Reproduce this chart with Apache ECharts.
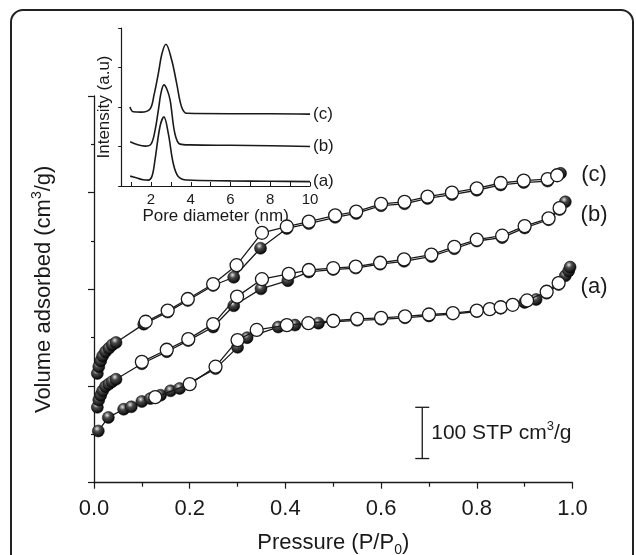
<!DOCTYPE html>
<html>
<head>
<meta charset="utf-8">
<script src="https://cdn.jsdelivr.net/npm/echarts@6/dist/echarts.min.js"></script>
<style>
  html, body { margin: 0; padding: 0; background: #fff; }
  #chart { width: 636px; height: 555px; }
</style>
</head>
<body>
<div id="chart"></div>
<script>
// ---- isotherm (a) ----
const adsPa = [0.009, 0.030, 0.062, 0.078, 0.100, 0.118, 0.139, 0.160, 0.179, 0.254, 0.300, 0.320, 0.385, 0.420, 0.469, 0.500, 0.550, 0.600, 0.650, 0.700, 0.750, 0.800, 0.850, 0.900, 0.924, 0.946, 0.971, 0.985, 0.992, 0.995];
const adsVa = [107, 135, 152, 157, 168, 174, 181, 190, 195, 236, 280, 300, 322, 326, 330, 333, 336, 338, 341, 345, 349, 354, 361, 373, 379, 392, 410, 428, 438, 446];
const desPa = [0.128, 0.200, 0.254, 0.300, 0.340, 0.403, 0.448, 0.500, 0.550, 0.600, 0.650, 0.700, 0.750, 0.800, 0.827, 0.850, 0.875, 0.905, 0.946, 0.971];
const desVa = [177, 204, 240, 295, 316, 326, 330, 335, 339, 341, 344, 348, 351, 356, 359, 363, 368, 377, 395, 413];

// ---- isotherm (b) ----
const adsPb = [0.007, 0.010, 0.014, 0.018, 0.024, 0.031, 0.038, 0.046, 0.100, 0.152, 0.197, 0.249, 0.292, 0.349, 0.405, 0.449, 0.500, 0.547, 0.598, 0.648, 0.705, 0.753, 0.800, 0.853, 0.900, 0.950, 0.973, 0.985];
const adsVb = [156, 171, 181, 190, 199, 204, 209, 214, 246, 271, 294, 322, 366, 401, 418, 436, 441, 444, 452, 458, 468, 484, 500, 507, 527, 544, 565, 581];
const desPb = [0.100, 0.152, 0.197, 0.249, 0.299, 0.351, 0.407, 0.449, 0.500, 0.547, 0.598, 0.648, 0.705, 0.753, 0.800, 0.853, 0.900, 0.950, 0.973];
const desVb = [250, 275, 297, 328, 385, 421, 432, 440, 444, 447, 455, 462, 472, 488, 503, 511, 531, 547, 568];

// ---- isotherm (c) ----
const adsPc = [0.007, 0.010, 0.014, 0.018, 0.024, 0.031, 0.038, 0.046, 0.104, 0.154, 0.196, 0.249, 0.292, 0.348, 0.403, 0.449, 0.504, 0.548, 0.600, 0.649, 0.697, 0.748, 0.800, 0.850, 0.898, 0.948, 0.975];
const adsVc = [226, 240, 252, 262, 271, 278, 285, 290, 328, 353, 377, 408, 425, 485, 526, 536, 549, 557, 573, 577, 588, 596, 605, 616, 621, 624, 640];
const desPc = [0.108, 0.154, 0.196, 0.249, 0.298, 0.351, 0.403, 0.449, 0.504, 0.548, 0.600, 0.649, 0.697, 0.748, 0.800, 0.850, 0.898, 0.948, 0.968];
const desVc = [333, 356, 380, 411, 450, 517, 530, 540, 553, 561, 577, 581, 592, 600, 609, 620, 625, 628, 636];

// curve labels (a) (b) (c) on the main plot
const curveNames = ['(a)', '(b)', '(c)'];
const curveLabelP = [1.045, 1.045, 1.045];
const curveLabelV = [406, 554, 637];

// scale bar: 100 STP cm3/g
const scaleBarP = 0.686;
const scaleBarLow = 50;
const scaleBarHigh = 156;

// ---- inset: pore size distribution ----
const poreDa = [0.95, 1.3, 1.6, 1.86, 2.05, 2.2, 2.45, 2.65, 2.87, 3.12, 3.37, 3.8, 6, 8, 10];
const poreIa = [0.25, 0.2, 0.16, 0.15, 0.25, 0.66, 1.5, 1.75, 1.33, 0.57, 0.24, 0.15, 0.13, 0.12, 0.11];
const poreDb = [0.95, 1.3, 1.7, 2.0, 2.2, 2.37, 2.5, 2.65, 2.8, 2.96, 3.2, 3.46, 4, 6, 8, 10];
const poreIb = [1.12, 1.05, 1.01, 1.06, 1.4, 1.92, 2.35, 2.56, 2.45, 2.18, 1.33, 1.06, 1.04, 1.03, 1.02, 1.0];
const poreDc = [0.94, 1.1, 1.5, 1.95, 2.15, 2.37, 2.55, 2.75, 3.04, 3.29, 3.54, 3.8, 6, 8, 10];
const poreIc = [2.0, 1.88, 1.87, 1.95, 2.3, 2.85, 3.35, 3.59, 3.19, 2.6, 2.0, 1.84, 1.83, 1.83, 1.82];
const insetTickValues = [1, 2, 3, 4, 5, 6, 7, 8, 9, 10];
const insetLabelValues = [2, 4, 6, 8, 10];

const ink = '#1a1a1a';
const font = '"Liberation Sans", Arial, sans-serif';

const pair = (xs, ys) => xs.map((x, i) => [x, ys[i]]);

const myChart = echarts.init(document.getElementById('chart'), null, { renderer: 'canvas' });

//实心球
const sphere = new echarts.graphic.RadialGradient(0.4, 0.32, 0.7, [
  { offset: 0, color: '#e6e6e6' },
  { offset: 0.35, color: '#4a4a4a' },
  { offset: 1, color: '#000' }
]);

function adsSeries(xs, ys) {
  return {
    type: 'line', xAxisIndex: 0, yAxisIndex: 0,
    data: pair(xs, ys),
    symbol: 'circle', symbolSize: 12, showAllSymbol: true,
    lineStyle: { color: ink, width: 1.3 },
    itemStyle: { color: sphere, borderColor: '#000', borderWidth: 0.5 },
    z: 2
  };
}

function desSeries(xs, ys) {
  return {
    type: 'line', xAxisIndex: 0, yAxisIndex: 0,
    data: pair(xs, ys),
    symbol: 'circle', symbolSize: 13, showAllSymbol: true,
    lineStyle: { color: ink, width: 1.3 },
    itemStyle: { color: '#fff', borderColor: ink, borderWidth: 1.3 },
    z: 3
  };
}

function poreSeries(xs, ys, name) {
  return {
    type: 'line', xAxisIndex: 1, yAxisIndex: 1,
    data: pair(xs, ys),
    smooth: 0.35, showSymbol: false,
    lineStyle: { color: ink, width: 1.6 },
    endLabel: { show: true, formatter: name, distance: 3, fontSize: 17, fontFamily: font, color: ink }
  };
}

const tickStyle = { color: ink, width: 1.2 };

const option = {
  animation: false,
  backgroundColor: '#fff',
  textStyle: { fontFamily: font, color: ink },
  graphic: [{
    type: 'rect',
    shape: { x: 11, y: 10, width: 622, height: 570, r: 12 },
    style: { fill: 'none', stroke: '#222', lineWidth: 2 },
    silent: true
  }],
  grid: [
    { left: 94, right: 63.5, top: 96, bottom: 72.3, containLabel: false, outerBoundsMode: 'none' },
    { left: 121.2, right: 326, top: 28, bottom: 369, containLabel: false, outerBoundsMode: 'none' }
  ],
  xAxis: [
    {
      type: 'value', gridIndex: 0, min: 0, max: 1, interval: 0.2,
      axisLine: { lineStyle: { color: ink, width: 1.3 } },
      axisTick: { length: 6, lineStyle: tickStyle },
      minorTick: { show: true, splitNumber: 2, length: 4, lineStyle: tickStyle },
      splitLine: { show: false },
      axisLabel: { formatter: v => v.toFixed(1), fontSize: 22, color: ink, margin: 15, fontFamily: font },
      name: '{t|Pressure (P/P}{b|0}{t|)}',
      nameLocation: 'middle', nameGap: 46,
      nameTextStyle: {
        fontSize: 22, fontFamily: font, color: ink,
        rich: {
          t: { fontSize: 22, fontFamily: font, color: ink, lineHeight: 28 },
          b: { fontSize: 14, fontFamily: font, color: ink, verticalAlign: 'bottom', lineHeight: 28 }
        }
      }
    },
    {
      type: 'value', gridIndex: 1, min: 0.5, max: 10,
      axisLine: { lineStyle: { color: ink, width: 1.2 } },
      axisTick: { inside: true, length: 4, customValues: insetTickValues, lineStyle: { color: ink, width: 1 } },
      splitLine: { show: false },
      axisLabel: { customValues: insetLabelValues, fontSize: 15, color: ink, margin: 6, fontFamily: font },
      name: 'Pore diameter (nm)',
      nameLocation: 'middle', nameGap: 22,
      nameTextStyle: { fontSize: 17, fontFamily: font, color: ink }
    }
  ],
  yAxis: [
    {
      type: 'value', gridIndex: 0, min: 0, max: 800, interval: 200,
      axisLine: { show: true, lineStyle: { color: ink, width: 1.3 } },
      axisTick: { show: true, length: 6, lineStyle: tickStyle },
      minorTick: { show: true, splitNumber: 2, length: 3, lineStyle: tickStyle },
      splitLine: { show: false },
      axisLabel: { show: false },
      name: '{t|Volume adsorbed (cm}{s|3}{t|/g)}',
      nameLocation: 'middle', nameGap: 36,
      nameTextStyle: {
        fontSize: 22, fontFamily: font, color: ink,
        rich: {
          t: { fontSize: 22, fontFamily: font, color: ink, lineHeight: 28 },
          s: { fontSize: 14, fontFamily: font, color: ink, verticalAlign: 'top', lineHeight: 28 }
        }
      }
    },
    {
      type: 'value', gridIndex: 1, min: 0, max: 4, interval: 1,
      axisLine: { show: true, lineStyle: { color: ink, width: 1.2 } },
      axisTick: { show: true, length: 3, lineStyle: { color: ink, width: 1 } },
      splitLine: { show: false },
      axisLabel: { show: false },
      name: 'Intensity (a.u)',
      nameLocation: 'middle', nameGap: 8,
      nameTextStyle: { fontSize: 17, fontFamily: font, color: ink }
    }
  ],
  series: [
    adsSeries(adsPa, adsVa), desSeries(desPa, desVa),
    adsSeries(adsPb, adsVb), desSeries(desPb, desVb),
    adsSeries(adsPc, adsVc), desSeries(desPc, desVc),
    {
      type: 'scatter', xAxisIndex: 0, yAxisIndex: 0, clip: false,
      data: curveNames.map((n, i) => ({ value: [curveLabelP[i], curveLabelV[i]], name: n })),
      symbolSize: 1, itemStyle: { color: 'rgba(0,0,0,0)', opacity: 1 },
      label: { show: true, position: 'inside', opacity: 1, formatter: p => p.name, fontSize: 22, fontFamily: font, color: ink }
    },
    {
      type: 'custom', xAxisIndex: 0, yAxisIndex: 0, clip: false,
      data: [[scaleBarP, scaleBarLow, scaleBarHigh]],
      renderItem: (params, api) => {
        const lo = api.coord([api.value(0), api.value(1)]);
        const hi = api.coord([api.value(0), api.value(2)]);
        const cap = 7;
        const st = { stroke: ink, lineWidth: 1.3 };
        return {
          type: 'group',
          children: [
            { type: 'line', shape: { x1: lo[0], y1: lo[1], x2: hi[0], y2: hi[1] }, style: st },
            { type: 'line', shape: { x1: lo[0] - cap, y1: lo[1], x2: lo[0] + cap, y2: lo[1] }, style: st },
            { type: 'line', shape: { x1: hi[0] - cap, y1: hi[1], x2: hi[0] + cap, y2: hi[1] }, style: st },
            {
              type: 'text', x: lo[0] + 9, y: (lo[1] + hi[1]) / 2,
              style: {
                text: '{t|100 STP cm}{s|3}{t|/g}',
                align: 'left', verticalAlign: 'middle', fill: ink,
                rich: {
                  t: { fontSize: 21, fontFamily: font, fill: ink, lineHeight: 26 },
                  s: { fontSize: 13, fontFamily: font, fill: ink, verticalAlign: 'top', lineHeight: 26 }
                }
              }
            }
          ]
        };
      }
    },
    poreSeries(poreDa, poreIa, '(a)'),
    poreSeries(poreDb, poreIb, '(b)'),
    poreSeries(poreDc, poreIc, '(c)')
  ]
};

myChart.setOption(option);
</script>
</body>
</html>
